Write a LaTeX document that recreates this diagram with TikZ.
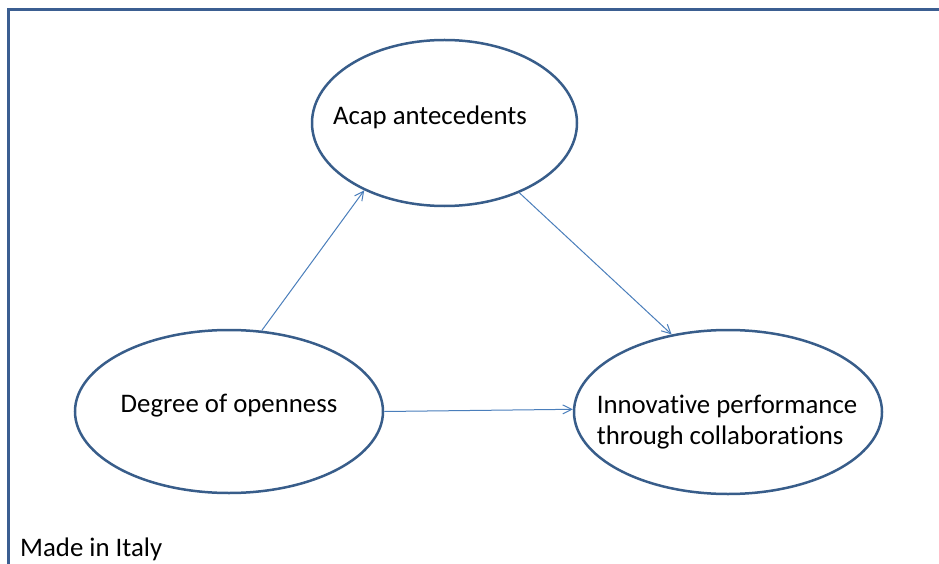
\documentclass[tikz,border=0pt]{standalone}
\usepackage{fontspec}
\setmainfont{Carlito}[Ligatures=NoCommon]
\usepackage{xcolor}
\usetikzlibrary{shapes.geometric, arrows.meta, positioning}
\definecolor{ovalblue}{HTML}{385D8A}
\definecolor{arrowblue}{HTML}{4A7EBB}
\definecolor{frameblue}{HTML}{3B5E91}
\begin{document}
\begin{tikzpicture}[
        x=1pt, y=-1pt,
        oval/.style={ellipse, draw=ovalblue, line width=2.5pt, inner sep=0pt},
        txt/.style={font=\fontsize{26.8}{31}\selectfont, inner sep=0pt, align=left},
        arrow/.style={draw=arrowblue, line width=1pt, -{Straight Barb[length=9pt, width=9pt]}}
    ]
        \clip (0,0) rectangle (939,564);
        \draw[frameblue, line width=3pt] (8,580) -- (8,10) -- (960,10);
        \node[oval, minimum width=265pt, minimum height=166pt] (acap) at (444.5,123) {};
        \node[oval, minimum width=308pt, minimum height=163pt] (deg) at (229,411.5) {};
        \node[oval, minimum width=308pt, minimum height=164pt] (innov) at (728,412) {};
        \node[txt] (acaptxt) at (430,117) {Acap antecedents};
        \node[txt] (degtxt) at (229,406) {Degree of openness};
        \node[txt] (innovtxt) at (727,422) {Innovative performance\\through collaborations};
        \node[txt, anchor=base west] (italy) at (20,556) {Made in Italy};
        \draw[arrow] (deg.68) -- (acap.220);
        \draw[arrow] (acap.317) -- (innov.126);
        \draw[arrow] (deg.east) -- (innov.179);
    \end{tikzpicture}
\end{document}
